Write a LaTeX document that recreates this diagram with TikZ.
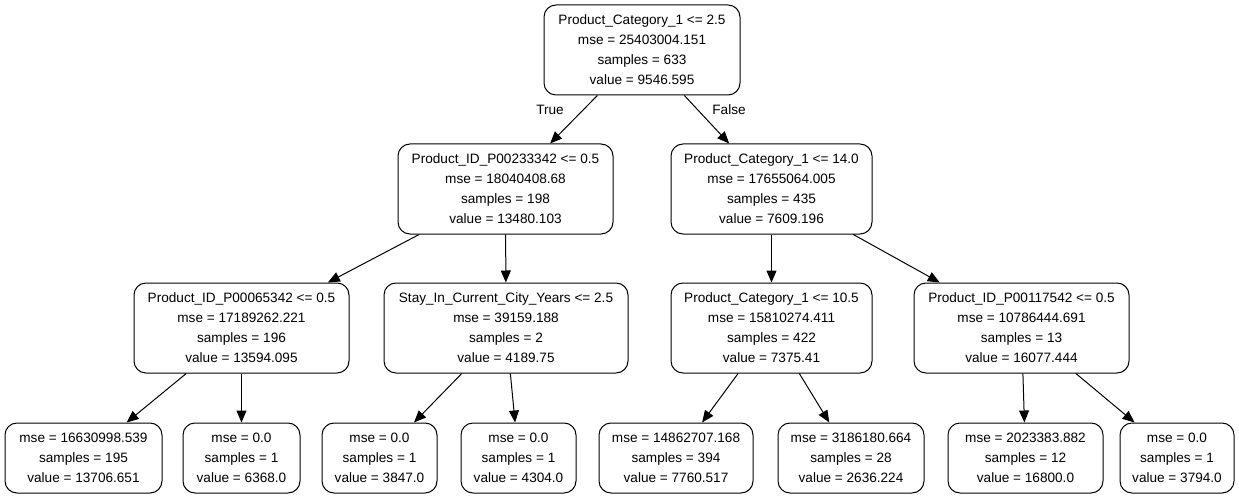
\documentclass[tikz,border=0pt]{standalone}
\usepackage{fontspec}
\setmainfont{Liberation Sans}
\usetikzlibrary{arrows.meta}
\begin{document}
\begin{tikzpicture}[x=1pt,y=-1pt,
  tree/.style={draw, line width=1pt, rounded corners=12pt, align=center, inner sep=0pt,
    font=\fontsize{13.6}{20}\selectfont},
  inner/.style={tree, minimum height=90pt},
  leaf/.style={tree, minimum height=70pt},
  edge/.style={line width=1pt, -{Triangle[length=12pt,width=10pt]}},
  lbl/.style={font=\fontsize{13.6}{16}\selectfont, inner sep=0pt}]
\useasboundingbox (0,0) rectangle (1239,497);
\node[inner, minimum width=196pt] (root) at (642,50) {Product\_Category\_1 <= 2.5\\mse = 25403004.151\\samples = 633\\value = 9546.595};
\node[inner, minimum width=215pt] (a) at (505.5,189) {Product\_ID\_P00233342 <= 0.5\\mse = 18040408.68\\samples = 198\\value = 13480.103};
\node[inner, minimum width=201pt] (b) at (771.5,189) {Product\_Category\_1 <= 14.0\\mse = 17655064.005\\samples = 435\\value = 7609.196};
\node[inner, minimum width=215pt] (n1) at (241.5,328) {Product\_ID\_P00065342 <= 0.5\\mse = 17189262.221\\samples = 196\\value = 13594.095};
\node[inner, minimum width=244pt] (n2) at (506,328) {Stay\_In\_Current\_City\_Years <= 2.5\\mse = 39159.188\\samples = 2\\value = 4189.75};
\node[inner, minimum width=201pt] (n3) at (771.5,328) {Product\_Category\_1 <= 10.5\\mse = 15810274.411\\samples = 422\\value = 7375.41};
\node[inner, minimum width=215pt] (n4) at (1021.5,328) {Product\_ID\_P00117542 <= 0.5\\mse = 10786444.691\\samples = 13\\value = 16077.444};
\node[leaf, minimum width=157pt] (l1) at (83.5,458) {mse = 16630998.539\\samples = 195\\value = 13706.651};
\node[leaf, minimum width=117pt] (l2) at (241.5,458) {mse = 0.0\\samples = 1\\value = 6368.0};
\node[leaf, minimum width=115pt] (l3) at (379.5,458) {mse = 0.0\\samples = 1\\value = 3847.0};
\node[leaf, minimum width=115pt] (l4) at (518.5,458) {mse = 0.0\\samples = 1\\value = 4304.0};
\node[leaf, minimum width=154pt] (l5) at (676,458) {mse = 14862707.168\\samples = 394\\value = 7760.517};
\node[leaf, minimum width=146pt] (l6) at (851,458) {mse = 3186180.664\\samples = 28\\value = 2636.224};
\node[leaf, minimum width=155pt] (l7) at (1025.5,458) {mse = 2023383.882\\samples = 12\\value = 16800.0};
\node[leaf, minimum width=114pt] (l8) at (1177,458) {mse = 0.0\\samples = 1\\value = 3794.0};
\draw[edge] (root) -- (a);
\draw[edge] (root) -- (b);
\node[lbl] (ltrue) at (550,110) {True};
\node[lbl] (lfalse) at (729,110) {False};
\draw[edge] (a) -- (n1);
\draw[edge] (a) -- (n2);
\draw[edge] (b) -- (n3);
\draw[edge] (b) -- (n4);
\draw[edge] (n1) -- (l1);
\draw[edge] (n1) -- (l2);
\draw[edge] (n2) -- (l3);
\draw[edge] (n2) -- (l4);
\draw[edge] (n3) -- (l5);
\draw[edge] (n3) -- (l6);
\draw[edge] (n4) -- (l7);
\draw[edge] (n4) -- (l8);
\end{tikzpicture}
\end{document}
